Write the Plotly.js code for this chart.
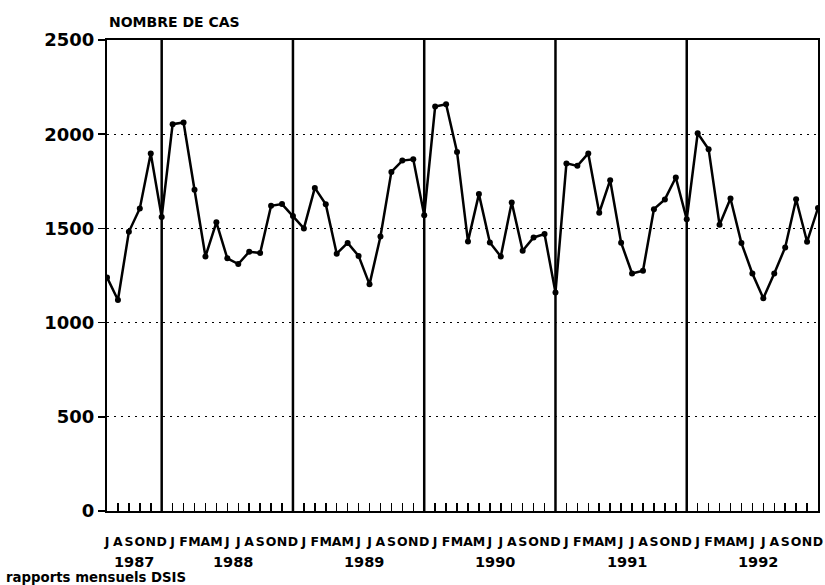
<!DOCTYPE html>
<html>
<head>
<meta charset="utf-8">
<script src="https://cdn.plot.ly/plotly-3.0.1.min.js"></script>
<style>
  html, body { margin: 0; padding: 0; background: #fff; }
  #chart { width: 825px; height: 585px; }
</style>
</head>
<body>
<div id="chart"></div>
<script>
// Monthly data, July 1987 to December 1992
const monthLetters = ['J','A','S','O','N','D',
  'J','F','M','A','M','J','J','A','S','O','N','D',
  'J','F','M','A','M','J','J','A','S','O','N','D',
  'J','F','M','A','M','J','J','A','S','O','N','D',
  'J','F','M','A','M','J','J','A','S','O','N','D',
  'J','F','M','A','M','J','J','A','S','O','N','D'];
const yearOfMonth = [1987,1987,1987,1987,1987,1987,
  1988,1988,1988,1988,1988,1988,1988,1988,1988,1988,1988,1988,
  1989,1989,1989,1989,1989,1989,1989,1989,1989,1989,1989,1989,
  1990,1990,1990,1990,1990,1990,1990,1990,1990,1990,1990,1990,
  1991,1991,1991,1991,1991,1991,1991,1991,1991,1991,1991,1991,
  1992,1992,1992,1992,1992,1992,1992,1992,1992,1992,1992,1992];
const cases = [
  1240,1120,1482,1606,1898,1560,
  2053,2062,1705,1351,1532,1341,1311,1376,1369,1620,1629,1566,
  1500,1715,1628,1366,1423,1354,1203,1457,1800,1860,1867,1570,
  2147,2159,1906,1431,1682,1425,1351,1638,1381,1452,1470,1160,
  1845,1832,1898,1583,1756,1424,1261,1275,1602,1654,1770,1548,
  2005,1920,1519,1659,1422,1261,1129,1261,1399,1655,1429,1608
];
const years = ['1987','1988','1989','1990','1991','1992'];
const yTicks = [0,500,1000,1500,2000,2500];

const idx = cases.map((_, i) => i);
const FONT = 'DejaVu Sans, Liberation Sans, Arial, sans-serif';

// year dividers at December of each year except the last
const dividerIdx = idx.filter(i => monthLetters[i] === 'D' && i < idx.length - 1);
const shapes = dividerIdx.map(i => ({
  type: 'line', xref: 'x', yref: 'paper', x0: i, x1: i, y0: 0, y1: 1,
  line: { color: '#000', width: 2.5 }, layer: 'below'
}));

const annotations = years.map(y => {
  const ii = idx.filter(i => String(yearOfMonth[i]) === y);
  const c = (ii[0] + ii[ii.length - 1]) / 2;
  return { text: y, x: c, xref: 'x', y: -0.108, yref: 'paper', showarrow: false,
    xanchor: 'center', yanchor: 'middle',
    font: { family: FONT, size: 14.5, color: '#000', weight: 'bold' } };
});
annotations.push({ text: 'NOMBRE DE CAS', x: 0, xref: 'paper', y: 1.038, yref: 'paper',
  showarrow: false, xanchor: 'left', yanchor: 'middle',
  font: { family: FONT, size: 14, color: '#000', weight: 'bold' } });
annotations.push({ text: 'rapports mensuels DSIS', x: -0.145, xref: 'paper', y: -0.141, yref: 'paper',
  showarrow: false, xanchor: 'left', yanchor: 'middle',
  font: { family: FONT, size: 13.3, color: '#000', weight: 'bold' } });

const trace = {
  x: idx, y: cases, type: 'scatter', mode: 'lines+markers',
  line: { color: '#000', width: 2.5 },
  marker: { color: '#000', size: 6 },
  hoverinfo: 'skip'
};

const layout = {
  width: 825, height: 585,
  margin: { l: 107, r: 7, t: 40, b: 74 },
  paper_bgcolor: '#fff', plot_bgcolor: '#fff',
  showlegend: false,
  xaxis: {
    range: [0, idx.length - 1], tickmode: 'array', tickvals: idx, ticktext: monthLetters,
    tickangle: 0, ticks: 'inside', ticklen: 8, tickwidth: 1.5, tickcolor: '#000',
    ticklabelstandoff: 18,
    showline: true, linecolor: '#000', linewidth: 2, mirror: true,
    showgrid: false, zeroline: false, fixedrange: true,
    tickfont: { family: FONT, size: 12.5, color: '#000', weight: 'bold' }
  },
  yaxis: {
    range: [0, 2500], tickmode: 'array', tickvals: yTicks, ticktext: yTicks.map(String),
    ticks: 'outside', ticklen: 7, tickwidth: 1.5, tickcolor: '#000',
    showline: true, linecolor: '#000', linewidth: 2, mirror: true,
    showgrid: true, gridcolor: '#000', gridwidth: 1, griddash: '2px,5px',
    zeroline: false, fixedrange: true,
    tickfont: { family: FONT, size: 18, color: '#000', weight: 'bold' }
  },
  shapes: shapes,
  annotations: annotations
};

Plotly.newPlot('chart', [trace], layout, { staticPlot: true, displayModeBar: false });
</script>
</body>
</html>
